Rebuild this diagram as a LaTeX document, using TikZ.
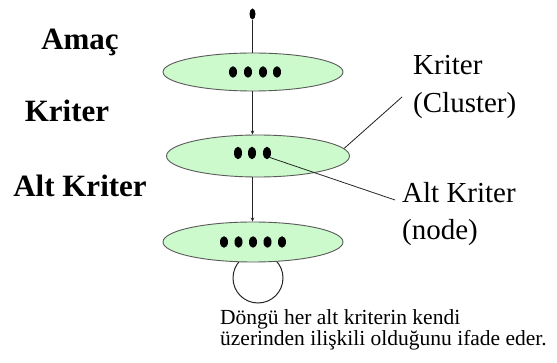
\documentclass[tikz,border=0pt]{standalone}
\usepackage{fontspec}
\setmainfont{Liberation Serif}
\usetikzlibrary{shapes.geometric,arrows.meta}
\definecolor{palegreen}{RGB}{204,250,204}
\definecolor{rimgray}{RGB}{90,90,90}
\begin{document}
\begin{tikzpicture}[x=1pt,y=-1pt,
  layer/.style={ellipse,draw=rimgray,line width=0.9pt,fill=palegreen,inner sep=0pt},
  bead/.style={ellipse,fill=black,inner sep=0pt,minimum width=8pt,minimum height=11.5pt},
  leftlab/.style={font=\fontsize{31}{31}\selectfont\bfseries,inner sep=0pt,anchor=base},
  rightlab/.style={font=\fontsize{29}{29}\selectfont,inner sep=0pt,anchor=base west},
  caplab/.style={font=\fontsize{21.5}{20}\selectfont,inner sep=0pt,anchor=base west},
  link/.style={draw=black!85,line width=0.8pt},
  arr/.style={link,-{Stealth[length=4pt,width=3.5pt]}}]
\useasboundingbox (0,0) rectangle (557,363);
\fill[white] (0,0) rectangle (557,363);

% loop drawn first so the ellipse covers its top
\draw[link,line width=1pt] (258,278) circle (25);

\node[layer,minimum width=180pt,minimum height=38pt] (e1) at (253,72) {};
\node[layer,minimum width=183pt,minimum height=42pt] (e2) at (258,156) {};
\node[layer,minimum width=180pt,minimum height=40pt] (e3) at (253,242) {};

\node[ellipse,fill=black,inner sep=0pt,minimum width=6pt,minimum height=11pt] (top) at (252.5,14) {};

% beads
\foreach \x [count=\i] in {233,248,263,277} \node[bead] (d1\i) at (\x,72) {};
\foreach \x [count=\i] in {238,252,267} \node[bead,minimum height=12.5pt] (d2\i) at (\x,153) {};
\foreach \x [count=\i] in {224,238.5,253,267.5,282} \node[bead] (d3\i) at (\x,242) {};

% vertical connectors
\draw[link] (top) -- (e1.north -| top);
\draw[arr] (e1.south -| top) -- (e2.north -| top);
\draw[arr] (e2.south -| top) -- (e3.north -| top);

% left labels
\node[leftlab] (lamac) at (80,50) {Amaç};
\node[leftlab] (lkriter) at (67,122) {Kriter};
\node[leftlab] (lalt) at (80,197) {Alt Kriter};

% right labels
\node[rightlab] (rk) at (413,75) {Kriter};
\node[rightlab] (rc) at (413,113) {(Cluster)};
\node[rightlab] (ra) at (402,203) {Alt Kriter};
\node[rightlab] (rn) at (402,240) {(node)};

\coordinate (c1) at (402,97);
\coordinate (c2) at (395,200);
\draw[link] (e2.5.6) -- (c1);
\draw[link] (d23.south east) -- (c2);

% caption
\node[caplab] (cap1) at (220,325) {Döngü her alt kriterin kendi};
\node[caplab] (cap2) at (220,345) {üzerinden ilişkili olduğunu ifade eder.};
\end{tikzpicture}
\end{document}
